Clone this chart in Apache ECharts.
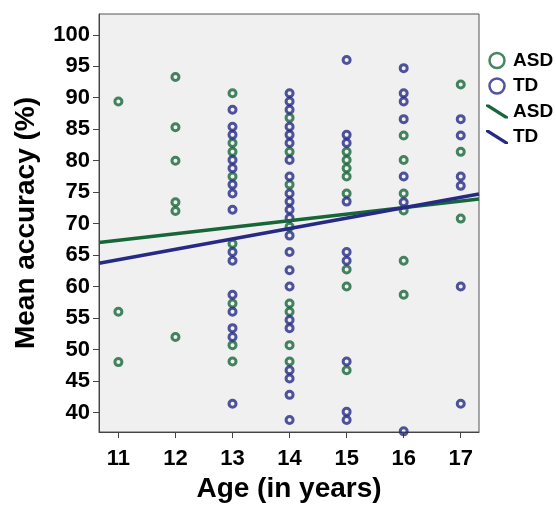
<!DOCTYPE html>
<html>
<head>
<meta charset="utf-8">
<script src="https://cdn.jsdelivr.net/npm/echarts@6/dist/echarts.min.js"></script>
<style>
  html, body { margin: 0; padding: 0; background: #fff; }
  #chart { width: 556px; height: 512px; }
</style>
</head>
<body>
<div id="chart"></div>
<script>
// ages on the x axis, one list of values per age
var ages = [11, 12, 13, 14, 15, 16, 17];
var asdValues = [
    [89.4, 56.0, 48.0],
    [93.3, 85.3, 80.0, 73.4, 72.0, 52.0],
    [90.7, 82.8, 81.4, 77.5, 66.8, 57.3, 50.7, 48.1],
    [86.8, 81.4, 76.2, 69.5, 57.3, 56.0, 50.7, 48.1],
    [81.4, 80.1, 78.8, 77.5, 74.8, 62.7, 60.0, 46.7],
    [84.0, 80.1, 74.8, 72.1, 64.1, 58.7],
    [92.1, 81.4, 70.8]
];
var tdValues = [
    [],
    [],
    [88.1, 85.4, 84.1, 80.1, 78.8, 76.2, 74.8, 72.2, 65.5, 64.1, 58.7, 56.0, 53.4, 52.0, 41.4],
    [90.7, 89.4, 88.1, 85.4, 84.1, 82.8, 80.1, 77.5, 74.8, 73.5, 72.2, 70.9, 68.1, 65.5, 62.6, 60.0, 54.7, 53.4, 46.7, 45.4, 42.8, 38.8],
    [96.0, 84.1, 82.8, 73.5, 65.5, 64.1, 48.1, 40.1, 38.8],
    [94.7, 90.7, 89.4, 86.6, 77.5, 73.4, 37.0],
    [86.6, 84.0, 77.5, 76.0, 60.0, 41.4]
];
// fit lines, read at the left and right edges of the plot
var asdFit = [[10.66, 67.0], [17.32, 73.9]];
var tdFit = [[10.66, 63.7], [17.32, 74.7]];

var xTicks = [11, 12, 13, 14, 15, 16, 17];
var yTicks = [40, 45, 50, 55, 60, 65, 70, 75, 80, 85, 90, 95, 100];

var green = '#17663a';
var blue = '#262a85';
var font = 'Liberation Sans';

function pairs(values) {
    var out = [];
    for (var i = 0; i < ages.length; i++) {
        for (var j = 0; j < values[i].length; j++) {
            out.push([ages[i], values[i][j]]);
        }
    }
    return out;
}

var chart = echarts.init(document.getElementById('chart'));

var option = {
    animation: false,
    grid: {
        left: 99,
        top: 14,
        width: 380,
        height: 418,
        show: true,
        backgroundColor: '#f0f0f0',
        borderColor: '#555',
        borderWidth: 1
    },
    legend: {
        orient: 'vertical',
        left: 481,
        top: 46,
        itemWidth: 22,
        itemHeight: 15,
        itemGap: 6.5,
        formatter: function (n) { return n.trim(); },
        textStyle: {
            fontFamily: font,
            fontWeight: 'bold',
            fontSize: 19,
            lineHeight: 19,
            color: '#000'
        },
        data: [
            { name: 'ASD', icon: 'circle', itemStyle: { color: 'rgba(0,0,0,0)', borderColor: green, borderWidth: 2.5 } },
            { name: 'TD', icon: 'circle', itemStyle: { color: 'rgba(0,0,0,0)', borderColor: blue, borderWidth: 2.5 } },
            { name: 'ASD ', icon: 'path://M0,0 L3,0 L22,12 L22,14 L19,14 L0,2 Z', itemStyle: { color: green } },
            { name: 'TD ', icon: 'path://M0,0 L3,0 L22,12 L22,14 L19,14 L0,2 Z', itemStyle: { color: blue } }
        ]
    },
    xAxis: {
        type: 'value',
        min: 10.66,
        max: 17.32,
        name: 'Age (in years)',
        nameLocation: 'middle',
        nameGap: 31,
        nameTextStyle: {
            fontFamily: font,
            fontWeight: 'bold',
            fontSize: 28,
            color: '#000'
        },
        splitLine: { show: false },
        axisLine: { lineStyle: { color: '#444' } },
        axisTick: {
            length: 6,
            customValues: xTicks,
            lineStyle: { color: '#444' }
        },
        axisLabel: {
            customValues: xTicks,
            margin: 16,
            fontFamily: font,
            fontWeight: 'bold',
            fontSize: 22,
            color: '#000'
        }
    },
    yAxis: {
        type: 'value',
        min: 36.9,
        max: 103.3,
        name: 'Mean accuracy (%)',
        nameLocation: 'middle',
        nameGap: 59,
        nameTextStyle: {
            fontFamily: font,
            fontWeight: 'bold',
            fontSize: 28,
            color: '#000'
        },
        splitLine: { show: false },
        axisLine: { show: true, lineStyle: { color: '#444' } },
        axisTick: {
            show: true,
            length: 6,
            customValues: yTicks,
            lineStyle: { color: '#444' }
        },
        axisLabel: {
            customValues: yTicks,
            margin: 9,
            fontFamily: font,
            fontWeight: 'bold',
            fontSize: 22,
            color: '#000'
        }
    },
    series: [
        {
            name: 'ASD',
            type: 'scatter',
            symbol: 'circle',
            symbolSize: 7,
            itemStyle: { color: 'rgba(0,0,0,0)', borderColor: green, borderWidth: 3 },
            emphasis: { disabled: true },
            data: pairs(asdValues)
        },
        {
            name: 'TD',
            type: 'scatter',
            symbol: 'circle',
            symbolSize: 7,
            itemStyle: { color: 'rgba(0,0,0,0)', borderColor: blue, borderWidth: 3 },
            emphasis: { disabled: true },
            data: pairs(tdValues)
        },
        {
            name: 'ASD ',
            type: 'line',
            symbol: 'none',
            lineStyle: { color: green, width: 3.5 },
            itemStyle: { color: green },
            data: asdFit
        },
        {
            name: 'TD ',
            type: 'line',
            symbol: 'none',
            lineStyle: { color: blue, width: 3.5 },
            itemStyle: { color: blue },
            data: tdFit
        }
    ]
};

chart.setOption(option);
</script>
</body>
</html>
